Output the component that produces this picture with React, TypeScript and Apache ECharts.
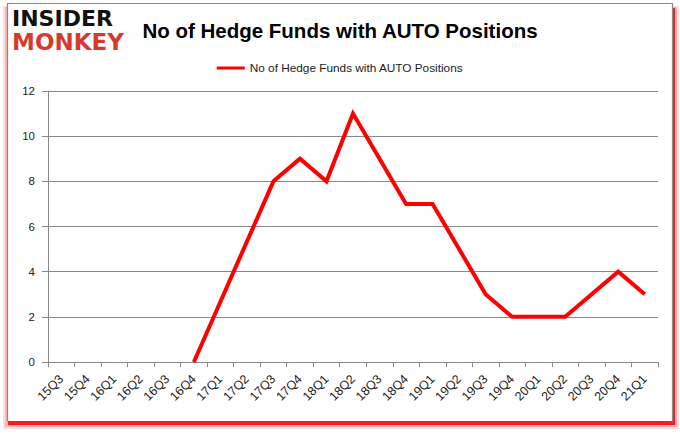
import React, { useEffect, useRef } from "react";
import * as echarts from "echarts";

const categories = [
  "15Q3", "15Q4", "16Q1", "16Q2", "16Q3", "16Q4", "17Q1", "17Q2", "17Q3", "17Q4",
  "18Q1", "18Q2", "18Q3", "18Q4", "19Q1", "19Q2", "19Q3", "19Q4", "20Q1", "20Q2",
  "20Q3", "20Q4", "21Q1",
];
// null = no reported value (line connects across the gap)
const hedgeFunds: (number | null)[] = [
  null, null, null, null, null, 0, null, null, 8, 9,
  8, 11, 9, 7, 7, 5, 3, 2, 2, 2,
  3, 4, 3,
];
const seriesName = "No of Hedge Funds with AUTO Positions";
const titleText = "No of Hedge Funds with AUTO Positions";

export default function App() {
  const ref = useRef<HTMLDivElement>(null);
  useEffect(() => {
    if (!ref.current) return;
    const chart = echarts.init(ref.current, undefined, { renderer: "svg" });
    chart.setOption({
      animation: false,
      backgroundColor: "#ffffff",
      graphic: [
        {
          type: "rect",
          z: 0,
          silent: true,
          shape: { x: 3, y: 6, width: 676, height: 423 },
          style: { fill: "#ffdede" },
        },
        {
          type: "rect",
          z: 0,
          silent: true,
          shape: { x: 5, y: 7, width: 672, height: 420 },
          style: { fill: "#ffb4b4" },
        },
        {
          type: "rect",
          z: 0,
          silent: true,
          shape: { x: 8, y: 8, width: 667, height: 417 },
          style: { fill: "#ff1a1a" },
        },
        {
          type: "rect",
          z: 0,
          silent: true,
          shape: { x: 7, y: 3, width: 666, height: 418 },
          style: { fill: "#ffffff" },
        },
        {
          type: "polyline",
          z: 1,
          silent: true,
          shape: {
            points: [
              [7.5, 421],
              [7.5, 3.5],
              [672.5, 3.5],
              [672.5, 421],
            ],
          },
          style: { stroke: "#8a8a8a", lineWidth: 1.2, fill: null },
        },
        {
          type: "text",
          z: 1,
          left: 12,
          top: 7,
          style: {
            text: "INSIDER",
            font: "bold 22px 'DejaVu Sans'",
            fill: "#111111",
          },
        },
        {
          type: "text",
          z: 1,
          left: 12,
          top: 30,
          style: {
            text: "MONKEY",
            font: "bold 23px 'DejaVu Sans'",
            fill: "#d63a2c",
          },
        },
      ],
      title: {
        text: titleText,
        left: "center",
        top: 15,
        textStyle: {
          fontFamily: "'Liberation Sans', Arial, sans-serif",
          fontWeight: "bold",
          fontSize: 20.5,
          color: "#000000",
        },
      },
      legend: {
        top: 57,
        left: "center",
        icon: "rect",
        itemWidth: 28,
        itemHeight: 3,
        itemGap: 4,
        textStyle: {
          fontFamily: "'Liberation Sans', Arial, sans-serif",
          fontSize: 11.8,
          color: "#222222",
        },
        data: [seriesName],
      },
      grid: { left: 48, right: 22, top: 91, bottom: 71, containLabel: false },
      xAxis: {
        type: "category",
        data: categories,
        boundaryGap: true,
        axisLine: { show: true, lineStyle: { color: "#888888", width: 1 } },
        axisTick: { show: true, length: 5, lineStyle: { color: "#888888" } },
        axisLabel: {
          rotate: 45,
          interval: 0,
          margin: 15,
          fontFamily: "'Liberation Sans', Arial, sans-serif",
          fontSize: 12.5,
          color: "#222222",
        },
        splitLine: { show: false },
      },
      yAxis: {
        type: "value",
        min: 0,
        max: 12,
        interval: 2,
        axisLine: { show: true, lineStyle: { color: "#888888", width: 1 } },
        axisTick: { show: true, length: 6, lineStyle: { color: "#888888" } },
        axisLabel: {
          margin: 13,
          fontFamily: "'Liberation Sans', Arial, sans-serif",
          fontSize: 11.5,
          color: "#222222",
        },
        splitLine: { show: true, lineStyle: { color: "#888888", width: 1 } },
      },
      series: [
        {
          name: seriesName,
          type: "line",
          z: 3,
          data: hedgeFunds,
          connectNulls: true,
          showSymbol: false,
          symbol: "none",
          lineStyle: { color: "#ff0000", width: 4, join: "miter" },
          itemStyle: { color: "#ff0000" },
        },
      ],
    });
    return () => chart.dispose();
  }, []);
  return (
    <div
      ref={ref}
      style={{ position: "absolute", left: 0, top: 0, width: 680, height: 433 }}
    />
  );
}
